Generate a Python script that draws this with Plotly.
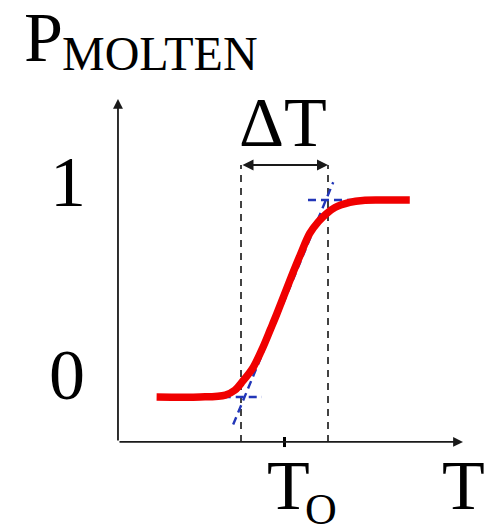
import plotly.graph_objects as go

# Melted fraction P vs temperature T (T measured from T_O, in units of the transition width)
T_curve = [-1.47, -0.97, -0.68, -0.57, -0.48, -0.36, -0.25, -0.16, -0.09, 0.06,
           0.18, 0.29, 0.39, 0.48, 0.58, 0.75, 0.90, 1.10, 1.44]
P_curve = [0.0, 0.0, 0.01, 0.035, 0.08, 0.15, 0.25, 0.345, 0.42, 0.59,
           0.72, 0.83, 0.89, 0.93, 0.962, 0.988, 0.998, 1.0, 1.0]

# Tangent at T_O and the two plateau levels it meets
T_tangent = [-0.59, 0.56]
P_tangent = [-0.14, 1.09]
T_low_plateau = [-0.71, -0.26]
P_low_plateau = [0.0, 0.0]
T_high_plateau = [0.27, 0.79]
P_high_plateau = [1.0, 1.0]

# Transition width: edges of Delta T
T_width_edges = [-0.5, 0.5]
T_O = 0.0

# Axis geometry (data units)
X_RANGE = [-3.2701, 2.3851]
Y_RANGE = [-0.6802, 2.0152]
AX_T0, AX_T1 = -1.914, 2.052
AX_P0, AX_P1 = -0.228, 1.513
DT_LEVEL = 1.178

W, H = 492, 531
SERIF = "Liberation Serif, Times New Roman, serif"
AXIS_COLOR = "#1a1a1a"
BLUE = "#2236b8"
RED = "#f00000"

fig = go.Figure()

# dashed verticals marking the transition width
for t in T_width_edges:
    fig.add_trace(go.Scatter(
        x=[t, t], y=[AX_P0, DT_LEVEL], mode="lines",
        line=dict(color="#222222", width=1.7, dash="7px,6px"),
        hoverinfo="skip", showlegend=False))

# tangent and plateau guide lines
for xs, ys in [(T_tangent, P_tangent), (T_low_plateau, P_low_plateau),
               (T_high_plateau, P_high_plateau)]:
    fig.add_trace(go.Scatter(
        x=xs, y=ys, mode="lines",
        line=dict(color=BLUE, width=2.4, dash="8px,5px"),
        hoverinfo="skip", showlegend=False))

# melting curve
fig.add_trace(go.Scatter(
    x=T_curve, y=P_curve, mode="lines",
    line=dict(color=RED, width=7.5, shape="spline", smoothing=0.9),
    hoverinfo="skip", showlegend=False))

# T_O tick on the T axis
fig.add_trace(go.Scatter(
    x=[T_O, T_O], y=[AX_P0 + 0.025, AX_P0 - 0.026], mode="lines",
    line=dict(color="#000000", width=3),
    hoverinfo="skip", showlegend=False))

annotations = []

def arrow(x0, y0, x1, y1, side="end", width=1.8):
    annotations.append(dict(
        x=x1, y=y1, ax=x0, ay=y0, xref="x", yref="y", axref="x", ayref="y",
        text="", showarrow=True, arrowhead=2, arrowsize=1.1, arrowwidth=width,
        arrowcolor=AXIS_COLOR, arrowside=side, standoff=0, startstandoff=0))

# axes with arrowheads
arrow(AX_T0, AX_P0, AX_T0, AX_P1)
arrow(AX_T0, AX_P0, AX_T1, AX_P0)
# Delta T double arrow
arrow(T_width_edges[0], DT_LEVEL, T_width_edges[1], DT_LEVEL, side="end+start", width=2)

def label(text, px, py, size):
    annotations.append(dict(
        x=px / W, y=1 - py / H, xref="paper", yref="paper",
        xanchor="center", yanchor="middle", text=text, showarrow=False,
        font=dict(family=SERIF, size=size, color="#000000")))

label("P", 43.5, 38, 70)
label("MOLTEN", 160, 54, 48)
label("ΔT", 282.5, 123, 70)
label("1", 68, 182, 72)
label("0", 66.5, 375, 72)
label("T", 288.5, 485, 70)
label("O", 321, 509, 44)
label("T", 463, 485, 70)

fig.update_layout(
    width=W, height=H,
    margin=dict(l=0, r=0, t=0, b=0),
    paper_bgcolor="white", plot_bgcolor="white",
    xaxis=dict(range=X_RANGE, visible=False, fixedrange=True),
    yaxis=dict(range=Y_RANGE, visible=False, fixedrange=True),
    annotations=annotations,
)

fig.write_html("out.html")
